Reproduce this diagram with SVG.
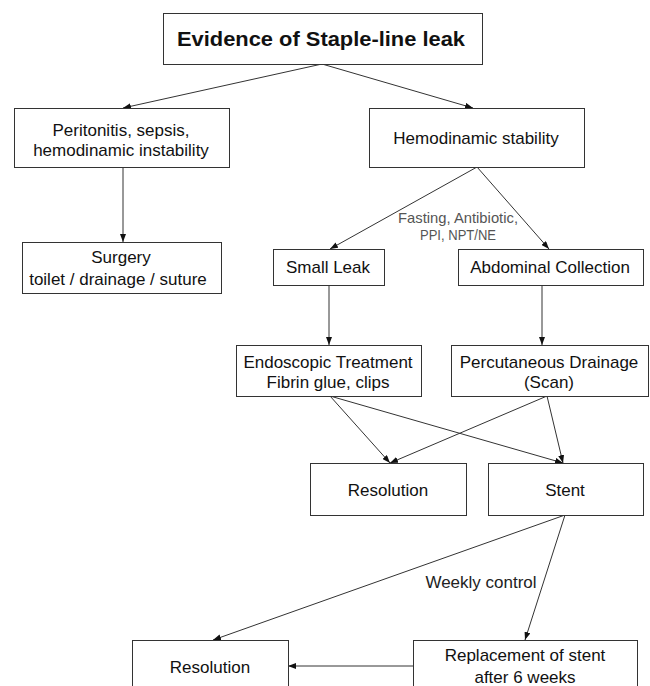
<svg xmlns="http://www.w3.org/2000/svg" width="650" height="686" viewBox="0 0 650 686">
<style>
  .box { fill: #ffffff; stroke: #333333; stroke-width: 1; }
  .t { font-family: "Liberation Sans", Arial, sans-serif; font-size: 17px; fill: #111111; text-anchor: middle; }
  .title { font-family: "Liberation Sans", Arial, sans-serif; font-size: 21px; font-weight: bold; fill: #111111; text-anchor: middle; }
  .lbl { font-family: "Liberation Sans", Arial, sans-serif; font-size: 15px; fill: #555555; text-anchor: middle; }
  .lbl2 { font-family: "Liberation Sans", Arial, sans-serif; font-size: 17px; fill: #222222; text-anchor: middle; }
  .c { stroke: #333333; stroke-width: 1; fill: none; marker-end: url(#ah); }
</style>
<defs>
  <marker id="ah" markerWidth="8" markerHeight="6" refX="8" refY="3" orient="auto" markerUnits="userSpaceOnUse">
    <path d="M0,0 L8,3 L0,6 Z" fill="#111111"/>
  </marker>
</defs>
<rect width="650" height="686" fill="#ffffff"/>

<g id="connectors">
  <line class="c" x1="322" y1="64" x2="123" y2="108"/>
  <line class="c" x1="322" y1="64" x2="473" y2="108"/>
  <line class="c" x1="123" y1="167" x2="123" y2="242"/>
  <line class="c" x1="477" y1="167" x2="330" y2="249"/>
  <line class="c" x1="477" y1="167" x2="549" y2="249"/>
  <line class="c" x1="329" y1="285" x2="329" y2="345"/>
  <line class="c" x1="542" y1="285" x2="542" y2="345"/>
  <line class="c" x1="330" y1="396" x2="390" y2="463"/>
  <line class="c" x1="330" y1="396" x2="563" y2="463"/>
  <line class="c" x1="547" y1="396" x2="390" y2="463"/>
  <line class="c" x1="547" y1="396" x2="563" y2="463"/>
  <line class="c" x1="565" y1="515" x2="213" y2="640"/>
  <line class="c" x1="565" y1="515" x2="525" y2="640"/>
  <line class="c" x1="413" y1="666" x2="288" y2="666"/>
  <text class="lbl" x="458" y="223" textLength="120" lengthAdjust="spacingAndGlyphs">Fasting, Antibiotic,</text>
  <text class="lbl" x="458" y="240" textLength="76" lengthAdjust="spacingAndGlyphs">PPI, NPT/NE</text>
  <text class="lbl2" x="481" y="588">Weekly control</text>
</g>

<g id="evidence">
  <rect class="box" x="163.5" y="13.5" width="319" height="51"/>
  <text class="title" x="321" y="46" textLength="288" lengthAdjust="spacingAndGlyphs">Evidence of Staple-line leak</text>
</g>
<g id="peritonitis">
  <rect class="box" x="14.5" y="108.5" width="215" height="59"/>
  <text class="t" x="121" y="136">Peritonitis, sepsis,</text>
  <text class="t" x="121" y="156">hemodinamic instability</text>
</g>
<g id="hemo-stability">
  <rect class="box" x="369.5" y="108.5" width="215" height="59"/>
  <text class="t" x="476" y="144">Hemodinamic stability</text>
</g>
<g id="surgery">
  <rect class="box" x="22.5" y="242.5" width="199" height="51"/>
  <text class="t" x="121" y="263">Surgery</text>
  <text class="t" x="118" y="285">toilet / drainage / suture</text>
</g>
<g id="small-leak">
  <rect class="box" x="273.5" y="249.5" width="111" height="36"/>
  <text class="t" x="328" y="273">Small Leak</text>
</g>
<g id="abdominal">
  <rect class="box" x="458.5" y="249.5" width="185" height="36"/>
  <text class="t" x="550" y="273">Abdominal Collection</text>
</g>
<g id="endoscopic">
  <rect class="box" x="236.5" y="345.5" width="185" height="51"/>
  <text class="t" x="328" y="368">Endoscopic Treatment</text>
  <text class="t" x="328" y="388">Fibrin glue, clips</text>
</g>
<g id="percutaneous">
  <rect class="box" x="451.5" y="345.5" width="197" height="51"/>
  <text class="t" x="549" y="368">Percutaneous Drainage</text>
  <text class="t" x="549" y="388">(Scan)</text>
</g>
<g id="resolution1">
  <rect class="box" x="310.5" y="463.5" width="156" height="52"/>
  <text class="t" x="388" y="496">Resolution</text>
</g>
<g id="stent">
  <rect class="box" x="488.5" y="463.5" width="155" height="52"/>
  <text class="t" x="565" y="496">Stent</text>
</g>
<g id="resolution2">
  <rect class="box" x="132.5" y="640.5" width="156" height="60"/>
  <text class="t" x="210" y="673">Resolution</text>
</g>
<g id="replacement">
  <rect class="box" x="413.5" y="640.5" width="224" height="60"/>
  <text class="t" x="525" y="661">Replacement of stent</text>
  <text class="t" x="525" y="683">after 6 weeks</text>
</g>
</svg>
